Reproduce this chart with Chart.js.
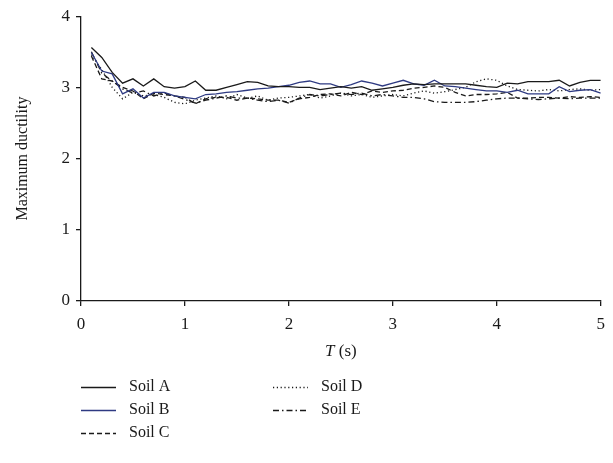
<!DOCTYPE html>
<html>
<head>
<meta charset="utf-8">
<script src="https://cdn.jsdelivr.net/npm/chart.js@4/dist/chart.umd.min.js"></script>
<style>
html,body{margin:0;padding:0;background:#fff;}
#wrap{width:613px;height:463px;position:relative;}
</style>
</head>
<body>
<div id="wrap"><canvas id="c" width="613" height="463"></canvas></div>
<script>
const periods = [0.1,0.2,0.3,0.4,0.5,0.6,0.7,0.8,0.9,1.0,1.1,1.2,1.3,1.4,1.5,1.6,1.7,1.8,1.9,2.0,2.1,2.2,2.3,2.4,2.5,2.6,2.7,2.8,2.9,3.0,3.1,3.2,3.3,3.4,3.5,3.6,3.7,3.8,3.9,4.0,4.1,4.2,4.3,4.4,4.5,4.6,4.7,4.8,4.9,5.0];
const soilA = [3.56,3.42,3.21,3.06,3.12,3.02,3.12,3.01,2.99,3.01,3.09,2.96,2.96,3.00,3.04,3.08,3.07,3.02,3.01,3.01,3.00,3.00,2.97,2.99,3.01,2.99,3.01,2.96,2.98,3.00,3.03,3.05,3.04,3.05,3.05,3.05,3.05,3.03,3.01,3.00,3.06,3.05,3.08,3.08,3.08,3.10,3.02,3.07,3.10,3.10];
const soilB = [3.49,3.23,3.19,2.91,2.98,2.85,2.93,2.93,2.88,2.86,2.84,2.90,2.91,2.93,2.94,2.96,2.98,2.99,3.01,3.03,3.07,3.09,3.05,3.05,3.00,3.04,3.09,3.06,3.02,3.06,3.10,3.05,3.03,3.10,3.02,3.01,2.99,2.97,2.95,2.95,2.93,2.96,2.91,2.91,2.91,3.01,2.94,2.96,2.97,2.92];
const soilC = [3.44,3.12,3.09,3.00,2.95,2.84,2.92,2.90,2.88,2.86,2.77,2.84,2.86,2.86,2.82,2.85,2.84,2.82,2.82,2.79,2.84,2.86,2.90,2.91,2.88,2.93,2.90,2.95,2.93,2.95,2.96,2.99,3.00,3.02,3.00,2.93,2.88,2.90,2.90,2.91,2.93,2.85,2.85,2.86,2.86,2.85,2.87,2.86,2.87,2.86];
const soilD = [3.46,3.25,3.00,2.84,2.93,2.88,2.90,2.86,2.79,2.77,2.82,2.85,2.88,2.84,2.90,2.85,2.88,2.82,2.85,2.86,2.88,2.90,2.85,2.88,2.92,2.88,2.90,2.86,2.88,2.90,2.88,2.92,2.95,2.92,2.94,2.97,3.00,3.08,3.12,3.10,3.02,2.97,2.96,2.95,2.97,2.95,2.97,2.98,2.96,2.97];
const soilE = [3.50,3.20,3.09,2.98,2.92,2.95,2.88,2.92,2.88,2.83,2.78,2.82,2.85,2.88,2.85,2.85,2.82,2.80,2.82,2.78,2.85,2.90,2.88,2.90,2.92,2.90,2.92,2.88,2.90,2.88,2.86,2.86,2.84,2.80,2.79,2.79,2.79,2.80,2.82,2.84,2.85,2.85,2.84,2.83,2.84,2.85,2.84,2.85,2.85,2.85];
const seriesNames = ["Soil A","Soil B","Soil C","Soil D","Soil E"];
const xTicks = [0,1,2,3,4,5];
const yTicks = [0,1,2,3,4];

const serif = "'Liberation Serif','DejaVu Serif',serif";
const styles = [
  {color:'#1a1a1a', dash:[]},
  {color:'#2e3a82', dash:[]},
  {color:'#1a1a1a', dash:[5,3]},
  {color:'#1a1a1a', dash:[1.2,2.6]},
  {color:'#1a1a1a', dash:[6,3,1.5,3]}
];
const allSeries = [soilA,soilB,soilC,soilD,soilE];
const datasets = allSeries.map((s,i)=>({
  label: seriesNames[i],
  data: s.map((v,j)=>({x:periods[j], y:v})),
  borderColor: styles[i].color,
  borderDash: styles[i].dash,
  borderWidth: 1.3,
  pointRadius: 0,
  tension: 0,
  fill: false
}));

const decor = {
  id:'decor',
  afterDraw(chart){
    const ctx = chart.ctx;
    const ca = chart.chartArea;
    ctx.save();
    ctx.fillStyle = '#1a1a1a';
    // y title
    ctx.font = '16px ' + serif;
    ctx.textAlign = 'center';
    ctx.textBaseline = 'middle';
    ctx.save();
    ctx.translate(23, (ca.top+ca.bottom)/2);
    ctx.rotate(-Math.PI/2);
    ctx.fillText('Maximum ductility', 0, 0);
    ctx.restore();
    // x title: italic T + (s)
    const cx = (ca.left+ca.right)/2;
    const ty = 352;
    ctx.font = 'italic 17px ' + serif;
    const wT = ctx.measureText('T').width;
    ctx.font = '17px ' + serif;
    const wS = ctx.measureText(' (s)').width;
    const start = cx - (wT+wS)/2;
    ctx.textAlign = 'left';
    ctx.font = 'italic 17px ' + serif;
    ctx.fillText('T', start, ty);
    ctx.font = '17px ' + serif;
    ctx.fillText(' (s)', start+wT, ty);
    // legend
    const cols = [{lx:81, tx:129}, {lx:273, tx:321}];
    const rows = [387, 410, 433];
    ctx.font = '16px ' + serif;
    chart.data.datasets.forEach((ds,i)=>{
      const col = cols[i<3?0:1];
      const y = rows[i<3?i:i-3];
      ctx.save();
      ctx.strokeStyle = ds.borderColor;
      ctx.lineWidth = 1.3;
      ctx.setLineDash(ds.borderDash);
      ctx.beginPath();
      ctx.moveTo(col.lx, y+0.5);
      ctx.lineTo(col.lx+35, y+0.5);
      ctx.stroke();
      ctx.restore();
      ctx.fillStyle = '#1a1a1a';
      ctx.textAlign = 'left';
      ctx.fillText(ds.label, col.tx, y);
    });
    ctx.restore();
  }
};

new Chart(document.getElementById('c'), {
  type: 'line',
  data: { datasets },
  options: {
    responsive: false,
    animation: false,
    layout: { padding: {left:0, right:10, top:13, bottom:0}, autoPadding:false },
    plugins: { legend:{display:false}, tooltip:{enabled:false} },
    scales: {
      x: {
        type:'linear', min:0, max:5,
        afterBuildTicks(s){ s.ticks = xTicks.map(v=>({value:v})); },
        afterFit(s){ s.height = 162; },
        border:{color:'#1a1a1a', width:1.3},
        grid:{display:true, drawOnChartArea:false, drawTicks:true, tickLength:5, color:'#1a1a1a', lineWidth:1.3},
        ticks:{color:'#1a1a1a', font:{family:serif, size:17}, padding:8, maxRotation:0}
      },
      y: {
        type:'linear', min:0, max:4,
        afterBuildTicks(s){ s.ticks = yTicks.map(v=>({value:v})); },
        afterFit(s){ s.width = 81; },
        border:{color:'#1a1a1a', width:1.3},
        grid:{display:true, drawOnChartArea:false, drawTicks:true, tickLength:5, color:'#1a1a1a', lineWidth:1.3},
        ticks:{color:'#1a1a1a', font:{family:serif, size:17}, padding:6}
      }
    }
  },
  plugins:[decor]
});
</script>
</body>
</html>
